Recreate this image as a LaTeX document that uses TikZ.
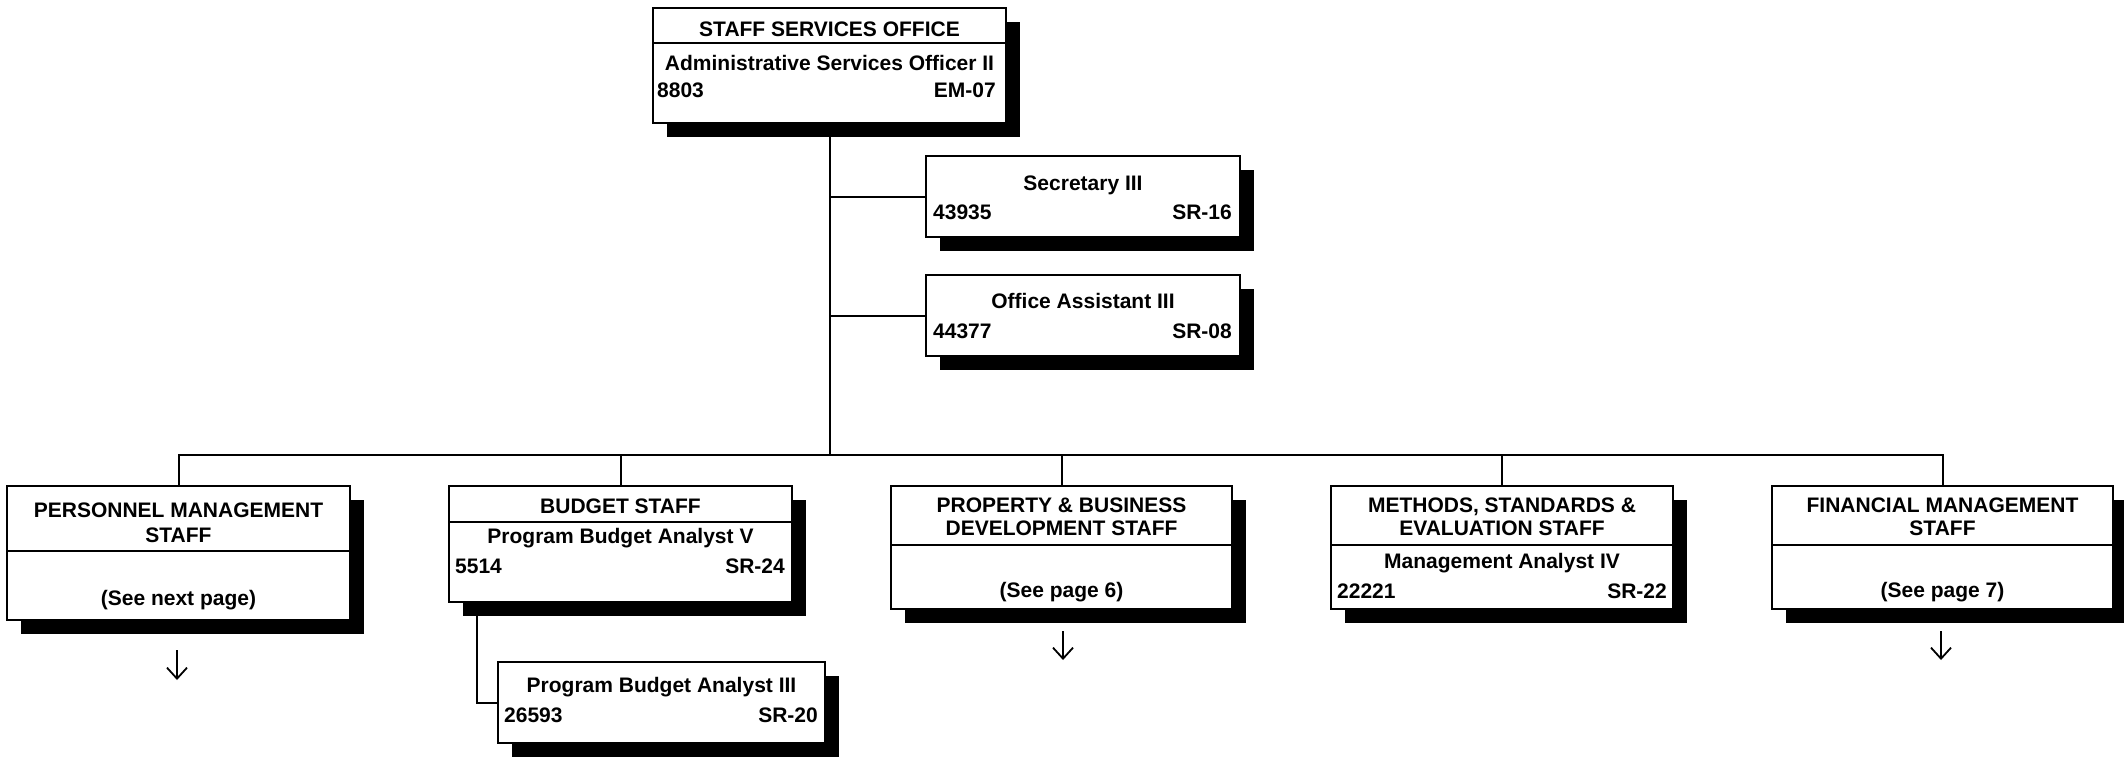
\documentclass[tikz,border=0pt]{standalone}
\usepackage{fontspec}
\setmainfont{Liberation Sans}
\usetikzlibrary{shadows,arrows.meta}
\begin{document}
\begin{tikzpicture}[x=1pt,y=-1pt,
  box/.style={draw=black,line width=2pt,fill=white,inner sep=0pt,outer sep=0pt,
    anchor=north west,
    drop shadow={shadow xshift=14pt,shadow yshift=-14pt,opacity=1,fill=black}},
  txt/.style={inner sep=0pt,font=\fontsize{21}{23}\selectfont\bfseries},
  ctr/.style={txt,anchor=base},
  lft/.style={txt,anchor=base west},
  rgt/.style={txt,anchor=base east},
  link/.style={line width=2pt},
  divider/.style={line width=2.6pt},
  arr/.style={line width=1.8pt,-{Straight Barb[length=11pt,width=20pt,line width=1.8pt]}}]
\fill[white] (0,0) rectangle (2124,761);
\useasboundingbox (0,0) rectangle (2124,761);

% connectors (drawn first, behind boxes)
\coordinate (busY) at (0,455);
\coordinate (persTop) at (178.5,486);
\coordinate (budTop) at (620.5,486);
\coordinate (propTop) at (1061.5,486);
\coordinate (methTop) at (1502,486);
\coordinate (finTop) at (1942.5,486);
\coordinate (topBot) at (829.5,123);
\coordinate (budLeg) at (477,602);

\draw[link] (topBot) -- (topBot |- busY);
\draw[link] (topBot |- 0,196.5) -- (926,196.5);
\draw[link] (topBot |- 0,315.5) -- (926,315.5);
\draw[link] (persTop) -- (persTop |- busY) -- (finTop |- busY) -- (finTop);
\draw[link] (budTop) -- (budTop |- busY);
\draw[link] (propTop) -- (propTop |- busY);
\draw[link] (methTop) -- (methTop |- busY);
\draw[link] (budLeg) |- (498,702.5);

% boxes
\node[box,minimum width=353pt,minimum height=115pt] (top) at (653,8) {};
\node[box,minimum width=314pt,minimum height=81pt] (sec) at (926,156) {};
\node[box,minimum width=314pt,minimum height=81pt] (off) at (926,275) {};
\node[box,minimum width=343pt,minimum height=134pt] (pers) at (7,486) {};
\node[box,minimum width=343pt,minimum height=116pt] (bud) at (449,486) {};
\node[box,minimum width=327pt,minimum height=81pt] (sub) at (498,662) {};
\node[box,minimum width=341pt,minimum height=123pt] (prop) at (891,486) {};
\node[box,minimum width=342pt,minimum height=123pt] (meth) at (1331,486) {};
\node[box,minimum width=341pt,minimum height=123pt] (fin) at (1772,486) {};

% dividers
\draw[divider] (top.west |- 0,43) -- (top.east |- 0,43);
\draw[divider] (pers.west |- 0,551) -- (pers.east |- 0,551);
\draw[divider] (bud.west |- 0,522) -- (bud.east |- 0,522);
\draw[divider] (prop.west |- 0,545) -- (prop.east |- 0,545);
\draw[divider] (meth.west |- 0,545) -- (meth.east |- 0,545);
\draw[divider] (fin.west |- 0,545) -- (fin.east |- 0,545);

% texts: top
\node[ctr] (t1) at (829.5,36) {STAFF SERVICES OFFICE};
\node[ctr] (t2) at (829.5,70) {Administrative Services Officer II};
\node[lft] (t3) at (657,97) {8803};
\node[rgt] (t4) at (996,97) {EM-07};
% secretary
\node[ctr] (s1) at (1083,190) {Secretary III};
\node[lft] (s2) at (933,219) {43935};
\node[rgt] (s3) at (1232,219) {SR-16};
% office assistant
\node[ctr] (o1) at (1083,308) {Office Assistant III};
\node[lft] (o2) at (933,338) {44377};
\node[rgt] (o3) at (1232,338) {SR-08};
% personnel
\node[ctr] (p1) at (178.5,517) {PERSONNEL MANAGEMENT};
\node[ctr] (p2) at (178.5,542) {STAFF};
\node[ctr] (p3) at (178.5,605) {(See next page)};
% budget
\node[ctr] (b1) at (620.5,513) {BUDGET STAFF};
\node[ctr] (b2) at (620.5,543) {Program Budget Analyst V};
\node[lft] (b3) at (455,573) {5514};
\node[rgt] (b4) at (785,573) {SR-24};
% budget sub
\node[ctr] (u1) at (661.5,692) {Program Budget Analyst III};
\node[lft] (u2) at (504,722) {26593};
\node[rgt] (u3) at (818,722) {SR-20};
% property
\node[ctr] (r1) at (1061.5,512) {PROPERTY \& BUSINESS};
\node[ctr] (r2) at (1061.5,535) {DEVELOPMENT STAFF};
\node[ctr] (r3) at (1061.5,597) {(See page 6)};
% methods
\node[ctr] (m1) at (1502,512) {METHODS, STANDARDS \&};
\node[ctr] (m2) at (1502,535) {EVALUATION STAFF};
\node[ctr] (m3) at (1502,568) {Management Analyst IV};
\node[lft] (m4) at (1337,598) {22221};
\node[rgt] (m5) at (1667,598) {SR-22};
% financial
\node[ctr] (f1) at (1942.5,512) {FINANCIAL MANAGEMENT};
\node[ctr] (f2) at (1942.5,535) {STAFF};
\node[ctr] (f3) at (1942.5,597) {(See page 7)};

% continuation arrows
\coordinate (pa) at (177,650);
\coordinate (ra) at (1063,631);
\coordinate (fa) at (1941,631);
\draw[arr] (pa) -- ++(0,30);
\draw[arr] (ra) -- ++(0,29);
\draw[arr] (fa) -- ++(0,29);
\end{tikzpicture}
\end{document}
